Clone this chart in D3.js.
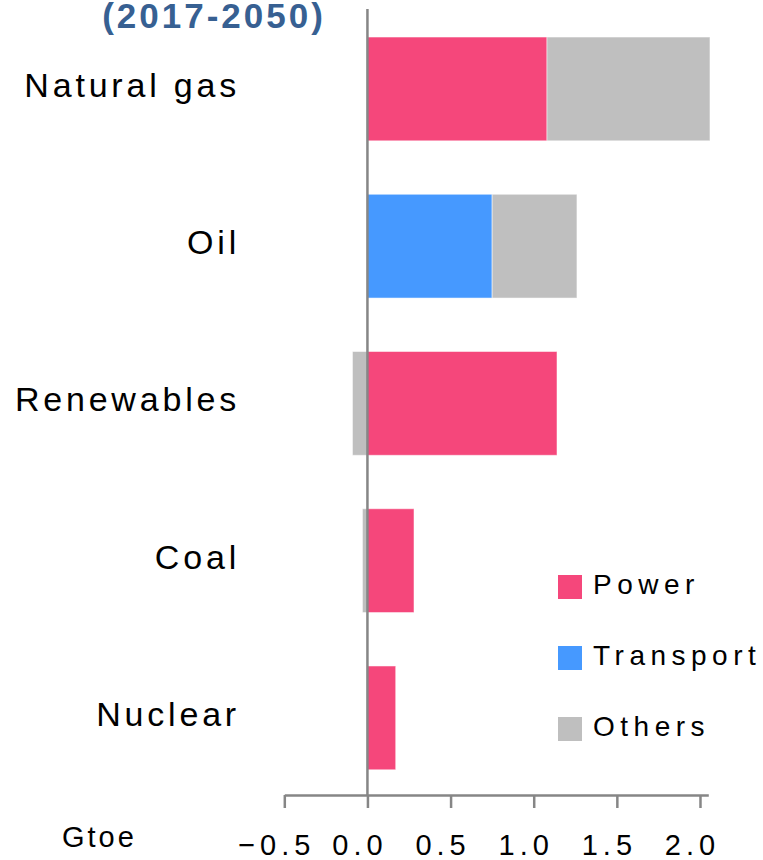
<!DOCTYPE html>
<html>
<head>
<meta charset="utf-8">
<script src="https://cdn.jsdelivr.net/npm/d3@7"></script>
<style>
  body { margin: 0; background: #fff; }
  svg text { font-family: "Liberation Sans", Arial, sans-serif; }
</style>
</head>
<body>
<svg id="chart" width="763" height="860"></svg>
<script>
// ----- DATA -----
var categories = ["Natural gas", "Oil", "Renewables", "Coal", "Nuclear"];
var power = [1.08, 0, 1.14, 0.28, 0.17];
var transport = [0, 0.75, 0, 0, 0];
var others = [0.98, 0.51, -0.09, -0.03, 0];
var seriesNames = ["Power", "Transport", "Others"];
var seriesColors = ["#F5477B", "#4699FF", "#BFBFBF"];
var tickValues = [-0.5, 0, 0.5, 1.0, 1.5, 2.0];
var unitLabel = "Gtoe";
var titleText = "(2017-2050)";

var rows = categories.map(function(c, i) {
    return { cat: c, Power: power[i], Transport: transport[i], Others: others[i] };
});

var svg = d3.select("#chart");

// ----- SCALES -----
var x = d3.scaleLinear().domain([-0.5, 2.05]).range([284.3, 708.3]);
var y = d3.scaleBand().domain(categories).range([10.3, 796.5])
    .paddingInner(0.34).paddingOuter(0.17);
var color = d3.scaleOrdinal().domain(seriesNames).range(seriesColors);

var stacked = d3.stack().keys(seriesNames).offset(d3.stackOffsetDiverging)(rows);

// ----- TITLE -----
// top of the title is cut off in the original figure
svg.append("text")
    .attr("x", 214).attr("y", 28)
    .attr("text-anchor", "middle")
    .style("font-size", "35px").style("font-weight", "bold")
    .style("letter-spacing", "3px")
    .style("fill", "#376092")
    .text(titleText);

// ----- BARS -----
svg.append("g").selectAll("g")
    .data(stacked)
    .join("g")
    .attr("fill", function(d) { return color(d.key); })
    .selectAll("rect")
    .data(function(d) { return d; })
    .join("rect")
    .attr("x", function(d) { return x(Math.min(d[0], d[1])); })
    .attr("width", function(d) { return Math.abs(x(d[1]) - x(d[0])); })
    .attr("y", function(d) { return y(d.data.cat); })
    .attr("height", y.bandwidth())
    .attr("stroke", "#fff")
    .attr("stroke-opacity", 0.5)
    .attr("stroke-width", 1);

// ----- AXES -----
var xAxis = d3.axisBottom(x).tickValues(tickValues).tickSize(13).tickSizeOuter(0)
    .tickFormat(d3.format(".1f"));
var gx = svg.append("g")
    .attr("transform", "translate(0," + 795 + ")")
    .call(xAxis);
gx.select(".domain").attr("stroke", "#868686").attr("stroke-width", 2.5);
gx.selectAll(".tick line").attr("stroke", "#868686").attr("stroke-width", 2.5);
gx.selectAll(".tick text")
    .attr("y", 0).attr("dy", 0)
    .attr("transform", "translate(-8,60)")
    .style("font-size", "29px")
    .style("letter-spacing", "5px")
    .style("fill", "#000");

// vertical zero line
svg.append("line")
    .attr("x1", x(0)).attr("x2", x(0))
    .attr("y1", 9).attr("y2", 795)
    .attr("stroke", "#868686").attr("stroke-width", 2.5);

// category labels
svg.append("g").selectAll("text")
    .data(categories)
    .join("text")
    .attr("x", 240)
    .attr("y", function(d) { return y(d) + y.bandwidth() / 2 + 8; })
    .attr("text-anchor", "end")
    .style("font-size", "34px")
    .style("letter-spacing", "3.8px")
    .style("fill", "#000")
    .text(function(d) { return d; });

svg.append("text")
    .attr("x", 62).attr("y", 847)
    .style("font-size", "29px")
    .style("letter-spacing", "3px")
    .text(unitLabel);

// ----- LEGEND -----
var legend = svg.append("g").selectAll("g")
    .data(seriesNames)
    .join("g")
    .attr("transform", function(d, i) { return "translate(558," + (575 + i * 71) + ")"; });
legend.append("rect")
    .attr("width", 24).attr("height", 24)
    .attr("fill", function(d) { return color(d); });
legend.append("text")
    .attr("x", 35).attr("y", 19)
    .style("font-size", "28px")
    .style("letter-spacing", "5.5px")
    .text(function(d) { return d; });
</script>
</body>
</html>
